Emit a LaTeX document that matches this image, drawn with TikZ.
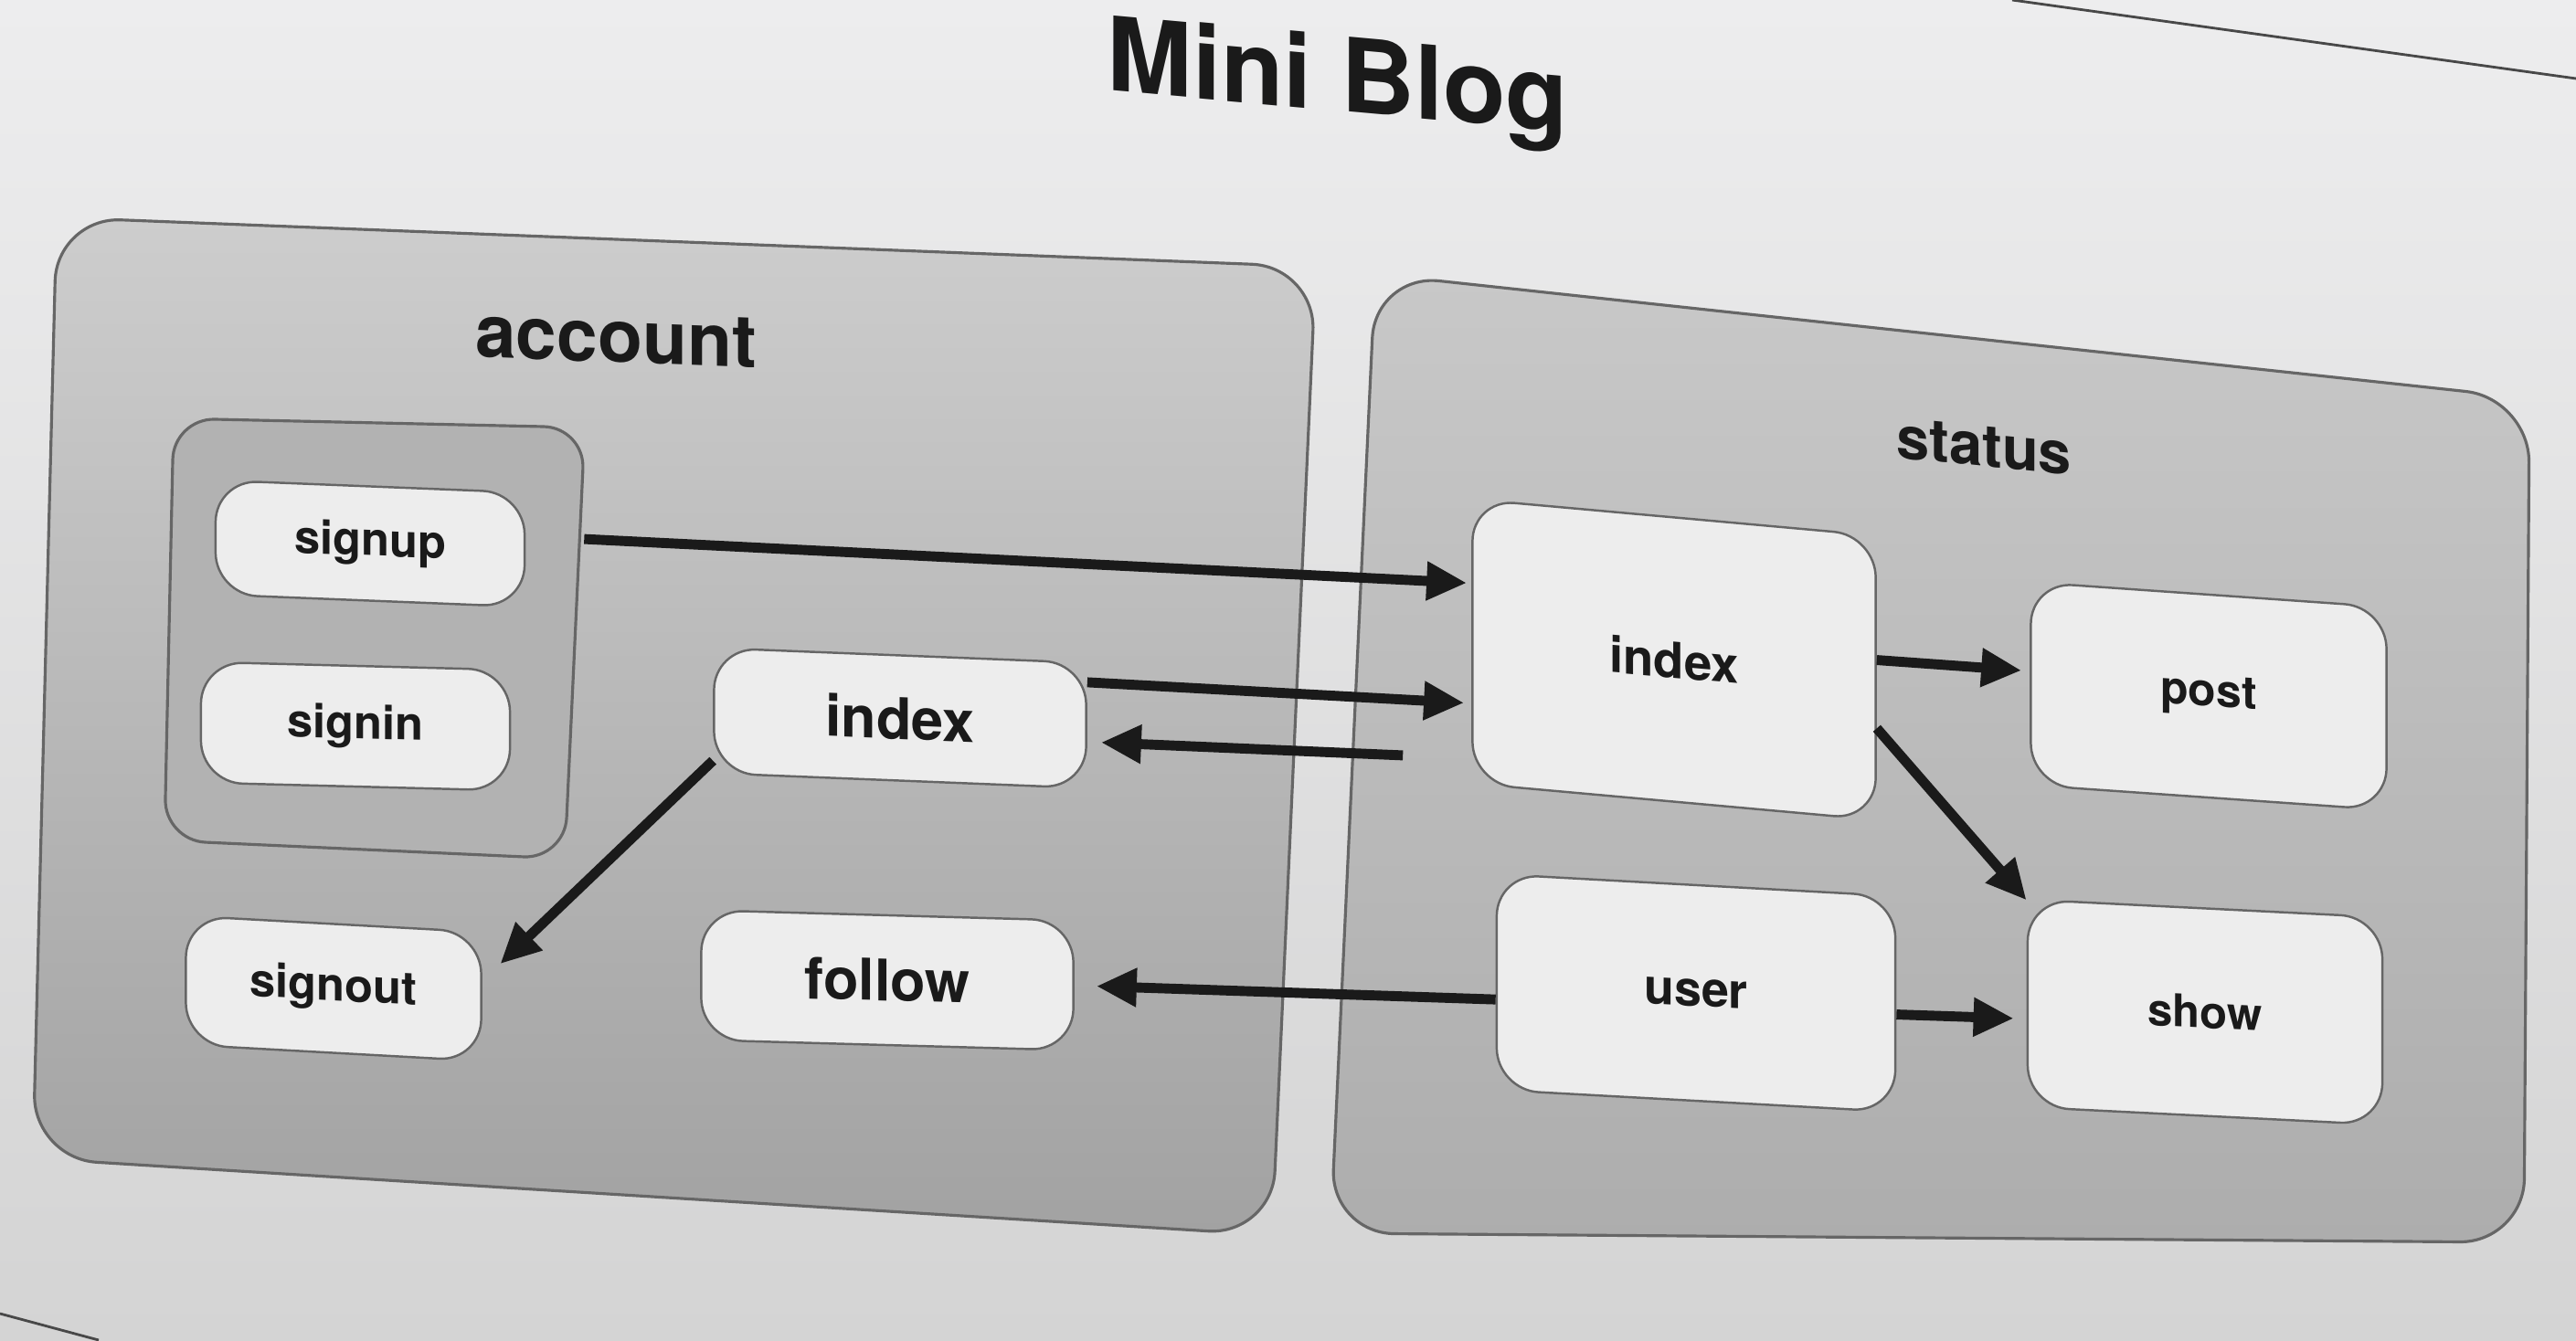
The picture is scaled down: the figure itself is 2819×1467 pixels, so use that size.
\documentclass[tikz,border=0pt]{standalone}
\usepackage{fontspec}
\setmainfont{TeX Gyre Heros}
\usetikzlibrary{arrows.meta,calc}

\definecolor{paperTop}{HTML}{EDEDEE}
\definecolor{paperBot}{HTML}{D4D4D4}
\definecolor{boxTop}{HTML}{CDCDCD}
\definecolor{boxBot}{HTML}{A2A2A2}
\definecolor{stTop}{HTML}{C8C8C8}
\definecolor{stBot}{HTML}{ADADAD}
\definecolor{grpFill}{HTML}{B2B2B2}
\definecolor{nodeFill}{HTML}{EDEDED}
\definecolor{edgeGray}{HTML}{666666}
\definecolor{ink}{HTML}{1A1A1A}

\newcommand{\fs}[1]{\bfseries\fontsize{#1}{#1}\selectfont}

\tikzset{
  action/.style={draw=edgeGray, line width=0.7pt, fill=nodeFill,
    rounded corners=0.46cm, text=ink, inner sep=0pt},
  flow/.style={draw=ink, line width=3.1pt,
    -{Triangle[length=0.44cm,width=0.40cm]}},
  container/.style={draw=edgeGray, line width=0.9pt, rounded corners=0.7cm},
  caption/.style={text=ink, inner sep=0pt},
}

\begin{document}
\begin{tikzpicture}[x=0.01cm,y=-0.01cm]
\useasboundingbox (0,0) rectangle (2819,1467);
% paper
\fill[top color=paperTop, bottom color=paperBot] (0,0) rectangle (2819,1467);
\draw[ink!80, line width=0.8pt] (2202,0) -- (2819,86);
\draw[ink!80, line width=0.8pt] (0,1438) -- (108,1467);

% containers
\path[container, top color=boxTop, bottom color=boxBot]
  (62,238) -- (1440,292) -- (1392,1352) -- (36,1268) -- cycle;
\path[container, rounded corners=0.45cm, fill=grpFill]
  (190,458) -- (640,468) -- (618,940) -- (180,920) -- cycle;
\path[container, top color=stTop, bottom color=stBot]
  (1505,300) -- (2768,436) -- (2762,1360) -- (1456,1350) -- cycle;

% titles
\node[caption, font=\fs{31.9pt}, yslant=-0.09] (title) at (1464,92) {Mini Blog};
\node[caption, font=\fs{22.8pt}, yslant=-0.04] (lblAccount) at (674,370) {account};
\node[caption, font=\fs{18.5pt}, yslant=-0.10] (lblStatus) at (2171,489) {status};

% account actions
\node[action, font=\fs{14.4pt}, minimum width=3.38cm, minimum height=1.25cm, yslant=-0.04]
  (signup) at (405,595) {signup};
\node[action, font=\fs{14.4pt}, minimum width=3.38cm, minimum height=1.32cm, yslant=-0.026]
  (signin) at (389,795) {signin};
\node[action, font=\fs{17.9pt}, minimum width=4.07cm, minimum height=1.37cm, yslant=-0.04]
  (aidx) at (985,786) {index};
\node[action, font=\fs{14.4pt}, minimum width=3.23cm, minimum height=1.41cm, yslant=-0.055]
  (signout) at (365,1082) {signout};
\node[action, font=\fs{17.9pt}, minimum width=4.07cm, minimum height=1.42cm, yslant=-0.028]
  (follow) at (971,1073) {follow};

% status actions
\node[action, font=\fs{15.5pt}, minimum width=4.41cm, minimum height=3.11cm, yslant=-0.09]
  (sidx) at (1832,722) {index};
\node[action, font=\fs{14.2pt}, minimum width=3.89cm, minimum height=2.22cm, yslant=-0.07]
  (post) at (2417,762) {post};
\node[action, font=\fs{15.3pt}, minimum width=4.36cm, minimum height=2.36cm, yslant=-0.055]
  (user) at (1856,1087) {user};
\node[action, font=\fs{14pt}, minimum width=3.88cm, minimum height=2.27cm, yslant=-0.05]
  (show) at (2413,1108) {show};

% transitions
\draw[flow, shorten <=0.64cm, shorten >=0.05cm] (signup.5) -- (sidx.164);
\draw[flow, shorten >=0.08cm] (aidx.13) -- (sidx.197);
\draw[flow, shorten <=0.75cm, shorten >=0.15cm] (sidx.210) -- (aidx.355);
\draw[flow, shorten >=0.27cm] (aidx.195) -- (signout.6);
\draw[flow, shorten >=0.24cm] (user.185) -- (follow.east);
\draw[flow, shorten >=0.09cm] (sidx.5) -- (post.176);
\draw[flow] (sidx.346) -- (show.150);
\draw[flow, shorten >=0.14cm] (user.357) -- (show.185);
\end{tikzpicture}
\end{document}
